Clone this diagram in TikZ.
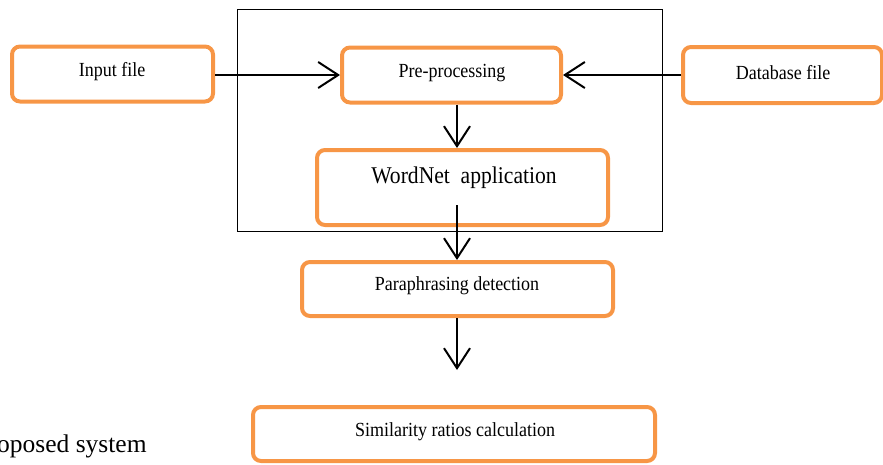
\documentclass[tikz,border=0pt]{standalone}
\usepackage{fontspec}
\setmainfont{Liberation Serif}
\newfontfamily\boxfont[FakeStretch=0.9]{Liberation Serif}
\usetikzlibrary{arrows.meta,calc}
\definecolor{boxorange}{HTML}{F79646}
\tikzset{
  stagebox/.style={draw=boxorange, line width=4pt, rounded corners=8pt, fill=white, inner sep=0pt},
  lbl/.style={font=\boxfont\fontsize{20}{22}\selectfont, inner sep=0pt, anchor=center},
  biglbl/.style={font=\boxfont\fontsize{24}{26}\selectfont, inner sep=0pt, anchor=center},
  flow/.style={line width=2pt, -{Straight Barb[length=20pt,width=26pt,line width=2pt]}},
}
\begin{document}
\begin{tikzpicture}[x=1pt,y=-1pt]
\useasboundingbox (0,0) rectangle (883,464);
% frame around pre-processing and WordNet stages
\draw[line width=1pt] (237,9) rectangle (662,231);
% stage boxes
\node[stagebox, minimum width=201pt, minimum height=55pt] (input) at (112.5,74) {};
\node[stagebox, minimum width=219pt, minimum height=55pt] (pre) at (451.5,75) {};
\node[stagebox, minimum width=199pt, minimum height=56pt] (db) at (782.5,75) {};
\node[stagebox, minimum width=291pt, minimum height=75pt] (wn) at (462.5,187.5) {};
\node[stagebox, minimum width=311pt, minimum height=54pt] (para) at (457.5,289) {};
\node[stagebox, minimum width=402pt, minimum height=54pt] (sim) at (454,434) {};
% labels
\node[lbl] (inputtxt) at (112,72) {Input file};
\node[lbl] (pretxt) at (452,73) {Pre-processing};
\node[lbl] (dbtxt) at (783,73) {Database file};
\node[biglbl] (wntxt) at (464,178) {WordNet\ \ application};
\node[lbl] (paratxt) at (457,286) {Paraphrasing detection};
\node[lbl] (simtxt) at (455,432) {Similarity ratios calculation};
\node[font=\fontsize{25.5}{27}\selectfont, inner sep=0pt, anchor=base west] (cap) at (-3,452) {oposed system};
% connectors
\coordinate (col) at (457,0);
\coordinate (wnout) at (457,205);
\coordinate (simin) at (457,370);
\draw[flow] (input.east |- pre.west) -- (pre.west);
\draw[flow] (db.west) -- (pre.east);
\draw[flow] (pre.south -| col) -- (wn.north -| col);
\draw[flow] (wnout) -- (para.north -| col);
\draw[flow] (para.south -| col) -- (simin);
\end{tikzpicture}
\end{document}
